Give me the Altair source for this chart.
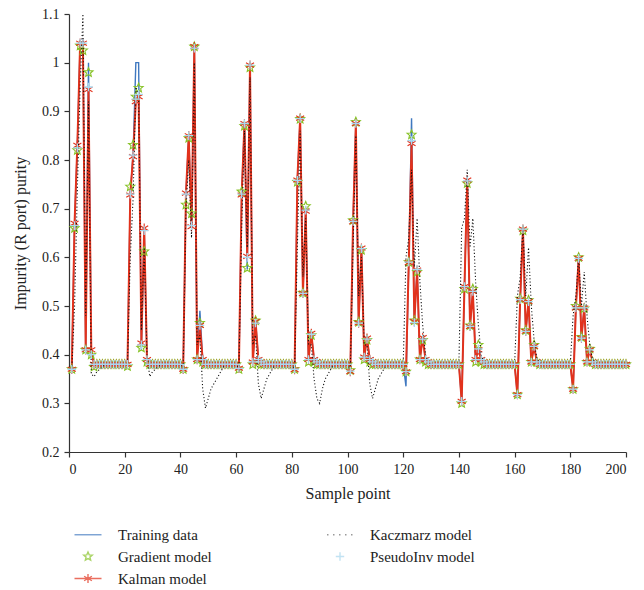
import altair as alt
import pandas as pd

# ---------------- data ----------------
sample_points = list(range(1, 201))

training = [
    0.37, 0.67, 0.83, 1.04, 1.04, 0.41, 1.00, 0.41, 0.38, 0.38, 0.38, 0.38, 0.38, 0.38, 0.38, 0.38, 0.38, 0.38, 0.38, 0.38,
    0.38, 0.73, 0.81, 1.00, 1.00, 0.41, 0.66, 0.39, 0.38, 0.38, 0.38, 0.38, 0.38, 0.38, 0.38, 0.38, 0.38, 0.38, 0.38, 0.38,
    0.37, 0.73, 0.85, 0.66, 1.03, 0.39, 0.49, 0.39, 0.38, 0.38, 0.38, 0.38, 0.38, 0.38, 0.38, 0.38, 0.38, 0.38, 0.38, 0.38,
    0.37, 0.73, 0.875, 0.575, 0.995, 0.385, 0.47, 0.39, 0.385, 0.38, 0.38, 0.38, 0.38, 0.38, 0.38, 0.38, 0.38, 0.38, 0.38, 0.38,
    0.37, 0.76, 0.886, 0.526, 0.70, 0.39, 0.444, 0.39, 0.385, 0.38, 0.38, 0.38, 0.38, 0.38, 0.38, 0.38, 0.38, 0.38, 0.38, 0.38,
    0.365, 0.675, 0.875, 0.465, 0.62, 0.395, 0.434, 0.39, 0.385, 0.38, 0.38, 0.38, 0.38, 0.38, 0.38, 0.38, 0.38, 0.38, 0.38, 0.38,
    0.335, 0.59, 0.886, 0.468, 0.574, 0.39, 0.435, 0.39, 0.385, 0.38, 0.38, 0.38, 0.38, 0.38, 0.38, 0.38, 0.38, 0.38, 0.38, 0.38,
    0.304, 0.54, 0.759, 0.458, 0.53, 0.39, 0.415, 0.39, 0.385, 0.38, 0.38, 0.38, 0.38, 0.38, 0.38, 0.38, 0.38, 0.38, 0.38, 0.38,
    0.318, 0.513, 0.658, 0.448, 0.509, 0.385, 0.417, 0.385, 0.38, 0.38, 0.38, 0.38, 0.38, 0.38, 0.38, 0.38, 0.38, 0.38, 0.38, 0.38,
    0.329, 0.496, 0.598, 0.434, 0.496, 0.385, 0.41, 0.385, 0.38, 0.38, 0.38, 0.38, 0.38, 0.38, 0.38, 0.38, 0.38, 0.38, 0.38, 0.38,
]

gradient = [
    0.37, 0.66, 0.82, 1.035, 1.025, 0.41, 0.98, 0.40, 0.375, 0.38, 0.38, 0.38, 0.38, 0.38, 0.38, 0.38, 0.38, 0.38, 0.38, 0.38,
    0.376, 0.745, 0.831, 0.93, 0.948, 0.414, 0.612, 0.385, 0.38, 0.38, 0.38, 0.38, 0.38, 0.38, 0.38, 0.38, 0.38, 0.38, 0.38, 0.38,
    0.37, 0.708, 0.845, 0.69, 1.033, 0.39, 0.465, 0.385, 0.38, 0.38, 0.38, 0.38, 0.38, 0.38, 0.38, 0.38, 0.38, 0.38, 0.38, 0.38,
    0.37, 0.735, 0.87, 0.578, 0.99, 0.38, 0.47, 0.385, 0.38, 0.38, 0.38, 0.38, 0.38, 0.38, 0.38, 0.38, 0.38, 0.38, 0.38, 0.38,
    0.37, 0.755, 0.884, 0.527, 0.705, 0.385, 0.44, 0.385, 0.38, 0.38, 0.38, 0.38, 0.38, 0.38, 0.38, 0.38, 0.38, 0.38, 0.38, 0.38,
    0.368, 0.676, 0.878, 0.467, 0.615, 0.39, 0.43, 0.385, 0.38, 0.38, 0.38, 0.38, 0.38, 0.38, 0.38, 0.38, 0.38, 0.38, 0.38, 0.38,
    0.365, 0.59, 0.852, 0.47, 0.57, 0.39, 0.43, 0.385, 0.38, 0.38, 0.38, 0.38, 0.38, 0.38, 0.38, 0.38, 0.38, 0.38, 0.38, 0.38,
    0.30, 0.535, 0.752, 0.46, 0.535, 0.385, 0.42, 0.385, 0.38, 0.38, 0.38, 0.38, 0.38, 0.38, 0.38, 0.38, 0.38, 0.38, 0.38, 0.38,
    0.318, 0.515, 0.655, 0.45, 0.512, 0.385, 0.42, 0.385, 0.38, 0.38, 0.38, 0.38, 0.38, 0.38, 0.38, 0.38, 0.38, 0.38, 0.38, 0.38,
    0.329, 0.50, 0.60, 0.436, 0.495, 0.385, 0.412, 0.385, 0.38, 0.38, 0.38, 0.38, 0.38, 0.38, 0.38, 0.38, 0.38, 0.38, 0.38, 0.38,
]

kalman = [
    0.37, 0.67, 0.83, 1.04, 1.04, 0.41, 0.945, 0.41, 0.38, 0.38, 0.38, 0.38, 0.38, 0.38, 0.38, 0.38, 0.38, 0.38, 0.38, 0.38,
    0.38, 0.728, 0.807, 0.92, 0.93, 0.424, 0.66, 0.39, 0.38, 0.38, 0.38, 0.38, 0.38, 0.38, 0.38, 0.38, 0.38, 0.38, 0.38, 0.38,
    0.37, 0.732, 0.85, 0.663, 1.033, 0.39, 0.46, 0.39, 0.38, 0.38, 0.38, 0.38, 0.38, 0.38, 0.38, 0.38, 0.38, 0.38, 0.38, 0.38,
    0.372, 0.728, 0.875, 0.602, 0.995, 0.385, 0.468, 0.39, 0.385, 0.38, 0.38, 0.38, 0.38, 0.38, 0.38, 0.38, 0.38, 0.38, 0.38, 0.38,
    0.369, 0.759, 0.886, 0.526, 0.695, 0.39, 0.444, 0.39, 0.385, 0.38, 0.38, 0.38, 0.38, 0.38, 0.38, 0.38, 0.38, 0.38, 0.38, 0.38,
    0.365, 0.673, 0.875, 0.465, 0.619, 0.395, 0.434, 0.39, 0.385, 0.38, 0.38, 0.38, 0.38, 0.38, 0.38, 0.38, 0.38, 0.38, 0.38, 0.38,
    0.365, 0.589, 0.834, 0.468, 0.574, 0.39, 0.435, 0.39, 0.385, 0.38, 0.38, 0.38, 0.38, 0.38, 0.38, 0.38, 0.38, 0.38, 0.38, 0.38,
    0.304, 0.54, 0.759, 0.458, 0.53, 0.39, 0.41, 0.39, 0.385, 0.38, 0.38, 0.38, 0.38, 0.38, 0.38, 0.38, 0.38, 0.38, 0.38, 0.38,
    0.318, 0.513, 0.658, 0.448, 0.509, 0.385, 0.417, 0.385, 0.38, 0.38, 0.38, 0.38, 0.38, 0.38, 0.38, 0.38, 0.38, 0.38, 0.38, 0.38,
    0.329, 0.496, 0.598, 0.434, 0.496, 0.385, 0.41, 0.385, 0.38, 0.38, 0.38, 0.38, 0.38, 0.38, 0.38, 0.38, 0.38, 0.38, 0.38, 0.38,
]

kaczmarz = [
    0.37, 0.50, 0.74, 0.95, 1.10, 0.48, 0.92, 0.36, 0.355, 0.365, 0.37, 0.375, 0.38, 0.38, 0.38, 0.38, 0.38, 0.38, 0.38, 0.38,
    0.38, 0.60, 0.72, 0.95, 0.93, 0.45, 0.62, 0.40, 0.355, 0.365, 0.37, 0.375, 0.38, 0.38, 0.38, 0.38, 0.38, 0.38, 0.38, 0.38,
    0.37, 0.70, 0.80, 0.64, 1.00, 0.42, 0.44, 0.33, 0.29, 0.31, 0.33, 0.34, 0.35, 0.36, 0.37, 0.38, 0.38, 0.38, 0.38, 0.38,
    0.37, 0.66, 0.86, 0.62, 0.97, 0.42, 0.44, 0.34, 0.31, 0.33, 0.35, 0.36, 0.37, 0.38, 0.38, 0.38, 0.38, 0.38, 0.38, 0.38,
    0.37, 0.62, 0.86, 0.56, 0.68, 0.42, 0.42, 0.35, 0.31, 0.30, 0.33, 0.35, 0.36, 0.37, 0.38, 0.38, 0.38, 0.38, 0.38, 0.38,
    0.37, 0.62, 0.85, 0.52, 0.60, 0.42, 0.42, 0.34, 0.31, 0.33, 0.35, 0.36, 0.37, 0.38, 0.38, 0.38, 0.38, 0.38, 0.38, 0.38,
    0.60, 0.64, 0.78, 0.58, 0.68, 0.55, 0.46, 0.40, 0.385, 0.38, 0.38, 0.38, 0.38, 0.38, 0.38, 0.38, 0.38, 0.38, 0.38, 0.38,
    0.66, 0.68, 0.78, 0.62, 0.68, 0.55, 0.46, 0.40, 0.385, 0.38, 0.38, 0.38, 0.38, 0.38, 0.38, 0.38, 0.38, 0.38, 0.38, 0.38,
    0.52, 0.56, 0.66, 0.52, 0.62, 0.50, 0.43, 0.39, 0.385, 0.38, 0.38, 0.38, 0.38, 0.38, 0.38, 0.38, 0.38, 0.38, 0.38, 0.38,
    0.48, 0.52, 0.60, 0.50, 0.57, 0.48, 0.42, 0.39, 0.385, 0.38, 0.38, 0.38, 0.38, 0.38, 0.38, 0.38, 0.38, 0.38, 0.38, 0.38,
]

pseudoinv = [
    0.37, 0.665, 0.825, 1.04, 1.04, 0.41, 0.95, 0.40, 0.38, 0.38, 0.38, 0.38, 0.38, 0.38, 0.38, 0.38, 0.38, 0.38, 0.38, 0.38,
    0.38, 0.73, 0.81, 0.925, 0.935, 0.42, 0.655, 0.39, 0.38, 0.38, 0.38, 0.38, 0.38, 0.38, 0.38, 0.38, 0.38, 0.38, 0.38, 0.38,
    0.37, 0.73, 0.85, 0.665, 1.03, 0.39, 0.46, 0.39, 0.38, 0.38, 0.38, 0.38, 0.38, 0.38, 0.38, 0.38, 0.38, 0.38, 0.38, 0.38,
    0.372, 0.73, 0.875, 0.60, 0.995, 0.385, 0.465, 0.39, 0.385, 0.38, 0.38, 0.38, 0.38, 0.38, 0.38, 0.38, 0.38, 0.38, 0.38, 0.38,
    0.37, 0.758, 0.885, 0.526, 0.697, 0.39, 0.442, 0.39, 0.385, 0.38, 0.38, 0.38, 0.38, 0.38, 0.38, 0.38, 0.38, 0.38, 0.38, 0.38,
    0.366, 0.674, 0.875, 0.465, 0.618, 0.395, 0.432, 0.39, 0.385, 0.38, 0.38, 0.38, 0.38, 0.38, 0.38, 0.38, 0.38, 0.38, 0.38, 0.38,
    0.365, 0.59, 0.84, 0.466, 0.575, 0.39, 0.432, 0.39, 0.385, 0.38, 0.38, 0.38, 0.38, 0.38, 0.38, 0.38, 0.38, 0.38, 0.38, 0.38,
    0.304, 0.54, 0.757, 0.458, 0.53, 0.39, 0.412, 0.39, 0.385, 0.38, 0.38, 0.38, 0.38, 0.38, 0.38, 0.38, 0.38, 0.38, 0.38, 0.38,
    0.318, 0.513, 0.658, 0.448, 0.509, 0.385, 0.417, 0.385, 0.38, 0.38, 0.38, 0.38, 0.38, 0.38, 0.38, 0.38, 0.38, 0.38, 0.38, 0.38,
    0.329, 0.496, 0.598, 0.434, 0.496, 0.385, 0.41, 0.385, 0.38, 0.38, 0.38, 0.38, 0.38, 0.38, 0.38, 0.38, 0.38, 0.38, 0.38, 0.38,
]

# legend order (filled column by column: 3 items in the first column, 2 in the second)
series_names = ["Training data", "Gradient model", "Kalman model", "Kaczmarz model", "PseudoInv model"]

x_ticks = [0, 20, 40, 60, 80, 100, 120, 140, 160, 180, 200]
y_ticks = [0.2, 0.3, 0.4, 0.5, 0.6, 0.7, 0.8, 0.9, 1.0, 1.1]

# ---------------- styles ----------------
BLUE = "#3f78c0"
GREEN = "#86c225"
RED = "#e2321c"
BLACK = "#111111"
LIGHTBLUE = "#a9d8ee"
FONT = "Liberation Serif, Times New Roman, DejaVu Serif, serif"

STAR = ("M0,-1L0.265,-0.364L0.951,-0.309L0.428,0.139L0.588,0.809L0,0.45"
        "L-0.588,0.809L-0.428,0.139L-0.951,-0.309L-0.265,-0.364Z")
ASTERISK = "M0,-1L0,1M-0.87,-0.5L0.87,0.5M-0.87,0.5L0.87,-0.5"
PLUS = "M-1,0L1,0M0,-1L0,1"

# legend symbols (unit = 6 px, drawn from x=-1 to 3.5 units, marker centred at 1.25)
LEG_LINE = "M-1,0L3.5,0"
LEG_DOTS = "M-0.85,0L-0.7,0M0.15,0L0.3,0M1.15,0L1.3,0M2.15,0L2.3,0M3.15,0L3.3,0"
LEG_STAR = ("M1.25,-0.75L1.449,-0.273L1.963,-0.232L1.571,0.104L1.691,0.607L1.25,0.338"
            "L0.809,0.607L0.929,0.104L0.537,-0.232L1.051,-0.273Z")
LEG_KALMAN = "M-1,0L3.5,0M1.25,-0.75L1.25,0.75M0.6,-0.375L1.9,0.375M0.6,0.375L1.9,-0.375"
LEG_PLUS = "M0.55,0L1.95,0M1.25,-0.7L1.25,0.7"

df = pd.DataFrame({
    "sample": sample_points,
    "training": training,
    "gradient": gradient,
    "kalman": kalman,
    "kaczmarz": kaczmarz,
    "pseudoinv": pseudoinv,
})

x_enc = alt.X("sample:Q", scale=alt.Scale(domain=[0, 200], nice=False, zero=False),
              axis=alt.Axis(values=x_ticks, title="Sample point", format="d"))
y_scale = alt.Scale(domain=[0.2, 1.1], nice=False, zero=False)
y_axis = alt.Axis(values=y_ticks, title="Impurity (R port) purity", format=".1~f")

base = alt.Chart(df)

training_line = base.mark_line(color=BLUE, strokeWidth=1.4).encode(
    x=x_enc, y=alt.Y("training:Q", scale=y_scale, axis=y_axis))
kalman_line = base.mark_line(color=RED, strokeWidth=2.0).encode(
    x="sample:Q", y=alt.Y("kalman:Q", scale=y_scale))
gradient_pts = base.mark_point(shape=STAR, color=GREEN, filled=False, size=90,
                               strokeWidth=1.1, opacity=1).encode(
    x="sample:Q", y=alt.Y("gradient:Q", scale=y_scale))
kalman_pts = base.mark_point(shape=ASTERISK, color=RED, filled=False, size=85,
                             strokeWidth=1.1, opacity=1).encode(
    x="sample:Q", y=alt.Y("kalman:Q", scale=y_scale))
kaczmarz_line = base.mark_line(color=BLACK, strokeWidth=1.1, strokeDash=[1.1, 2.2]).encode(
    x="sample:Q", y=alt.Y("kaczmarz:Q", scale=y_scale))
pseudo_pts = base.mark_point(shape=PLUS, color=LIGHTBLUE, filled=False, size=75,
                             strokeWidth=1.3, opacity=1).encode(
    x="sample:Q", y=alt.Y("pseudoinv:Q", scale=y_scale))

legend_cfg = dict(
    title=None, orient="none", legendX=4, legendY=513, columns=2,
    symbolSize=144, symbolStrokeWidth=1.4, labelOffset=30,
    labelFont=FONT, labelFontSize=15, labelColor="#222222",
    rowPadding=6, columnPadding=112, symbolFillColor="transparent",
)
legend_layer = alt.Chart(pd.DataFrame({"series": series_names})).mark_point(
    filled=False).encode(
    color=alt.Color("series:N", scale=alt.Scale(
        domain=series_names, range=[BLUE, GREEN, RED, BLACK, LIGHTBLUE]),
        legend=alt.Legend(**legend_cfg)),
    shape=alt.Shape("series:N", scale=alt.Scale(
        domain=series_names, range=[LEG_LINE, LEG_STAR, LEG_KALMAN, LEG_DOTS, LEG_PLUS]),
        legend=alt.Legend(**legend_cfg)),
).transform_filter("false")

chart = alt.layer(
    training_line, kalman_line, gradient_pts, kalman_pts, kaczmarz_line, pseudo_pts, legend_layer
).properties(
    width=557, height=438,
    autosize=alt.AutoSizeParams(type="none"),
    padding={"left": 69, "top": 14, "right": 18, "bottom": 138},
).configure_view(stroke=None).configure_axis(
    grid=False, domainColor="#333333", tickColor="#333333", domainWidth=1.2, tickWidth=1.2,
    tickSize=5, labelFont=FONT, labelFontSize=14, labelColor="#222222",
    titleFont=FONT, titleFontSize=16, titleFontWeight="normal", titleColor="#222222",
    labelPadding=5,
).configure_axisY(titlePadding=13).configure_axisX(titlePadding=9)

chart.save("out.html", embed_options={"renderer": "svg", "actions": False})
